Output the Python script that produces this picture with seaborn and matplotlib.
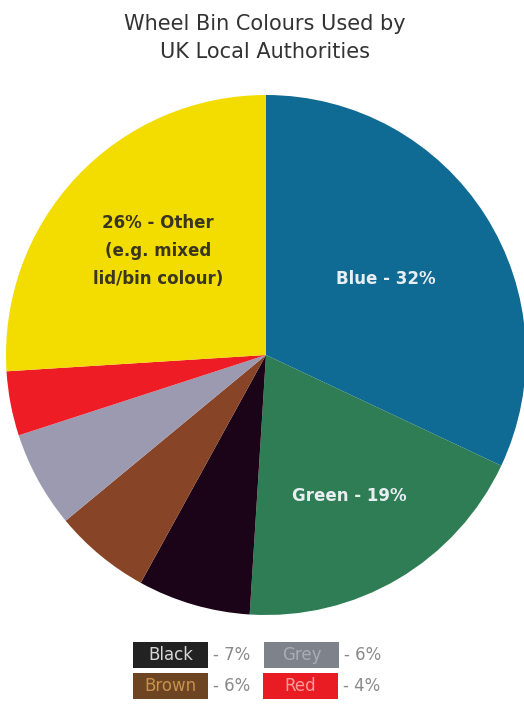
import matplotlib
matplotlib.use("Agg")
import matplotlib.pyplot as plt
from matplotlib.patches import Rectangle
import numpy as np
import seaborn as sns

# Share of UK local authorities by wheel bin colour (percent)
categories = ["Blue", "Green", "Black", "Brown", "Grey", "Red", "Other"]
shares = [32, 19, 7, 6, 6, 4, 26]
slice_colors = ["#0f6a94", "#2e7d55", "#1c0418", "#874426", "#9c9ab0", "#ee1c25", "#f3dc00"]

# Small slices are explained in a key under the pie
key_names = ["Black", "Grey", "Brown", "Red"]
key_box_colors = ["#222222", "#7e838b", "#6e4522", "#e81c22"]
key_text_colors = ["#d8d8d8", "#a9adb5", "#c8924e", "#ff9a9a"]

sns.set_theme(style="white")
plt.rcParams["font.family"] = ["DejaVu Sans"]

W, H = 524, 704
fig = plt.figure(figsize=(W / 100, H / 100), dpi=100)
fig.patch.set_facecolor("white")

cx, cy, r = 266, 355, 260
ax = fig.add_axes([(cx - r) / W, (H - cy - r) / H, 2 * r / W, 2 * r / H])
wedges, _ = ax.pie(shares, colors=slice_colors, startangle=90, counterclock=False,
                   radius=1.0, wedgeprops=dict(linewidth=0))
ax.set_xlim(-1, 1)
ax.set_ylim(-1, 1)
ax.set_aspect("equal")
ax.axis("off")

# In-slice labels for the two big coloured slices
for name, dist in [("Blue", 0.545), ("Green", 0.63)]:
    i = categories.index(name)
    w = wedges[i]
    mid = np.deg2rad((w.theta1 + w.theta2) / 2)
    ax.text(dist * np.cos(mid), dist * np.sin(mid), f"{name} - {shares[i]}%",
            ha="center", va="center", color="#e8eef2", fontsize=12, fontweight="bold")

oi = categories.index("Other")
ax.text(-0.415, 0.40, f"{shares[oi]}% - Other\n(e.g. mixed\nlid/bin colour)",
        ha="center", va="center", color="#3a3520", fontsize=12, fontweight="bold",
        linespacing=1.75)

fig.text(265 / W, 1 - 38 / H, "Wheel Bin Colours Used by\nUK Local Authorities",
         ha="center", va="center", fontsize=15, color="#333333", linespacing=1.55)

# Colour key below the pie
box_w, box_h = 75, 26
slots = [(133, 655), (264, 655), (133, 686), (263, 686)]
for (x, y), name, bc, tc in zip(slots, key_names, key_box_colors, key_text_colors):
    fig.add_artist(Rectangle((x / W, 1 - (y + box_h / 2) / H), box_w / W, box_h / H,
                             transform=fig.transFigure, facecolor=bc, edgecolor="none"))
    fig.text((x + box_w / 2) / W, 1 - y / H, name, ha="center", va="center",
             fontsize=12, color=tc)
    v = shares[categories.index(name)]
    fig.text((x + box_w + 5) / W, 1 - y / H, f"- {v}%", ha="left", va="center",
             fontsize=12, color="#8a8a8a")

fig.savefig("out.png", dpi=100, facecolor="white")
